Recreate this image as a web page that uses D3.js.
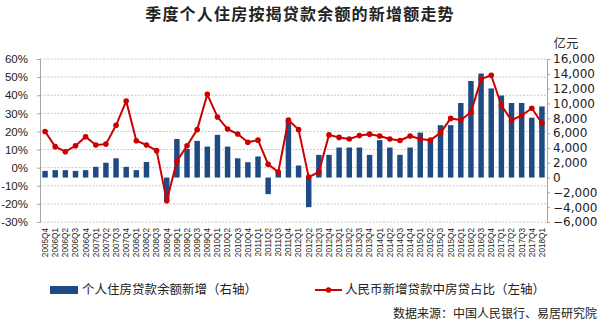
<!DOCTYPE html>
<html>
<head>
<meta charset="utf-8">
<script src="https://cdn.jsdelivr.net/npm/d3@7"></script>
<style>
body{margin:0;background:#fff;}
svg{display:block;}
</style>
</head>
<body>
<svg id="chart" width="600" height="330"></svg>
<script>
const categories = ["2005Q4",
 "2006Q1","2006Q2","2006Q3","2006Q4",
 "2007Q1","2007Q2","2007Q3","2007Q4",
 "2008Q1","2008Q2","2008Q3","2008Q4",
 "2009Q1","2009Q2","2009Q3","2009Q4",
 "2010Q1","2010Q2","2010Q3","2010Q4",
 "2011Q1","2011Q2","2011Q3","2011Q4",
 "2012Q1","2012Q2","2012Q3","2012Q4",
 "2013Q1","2013Q2","2013Q3","2013Q4",
 "2014Q1","2014Q2","2014Q3","2014Q4",
 "2015Q1","2015Q2","2015Q3","2015Q4",
 "2016Q1","2016Q2","2016Q3","2016Q4",
 "2017Q1","2017Q2","2017Q3","2017Q4",
 "2018Q1"];

// 个人住房贷款余额新增（亿元，右轴）
const loanIncrease = [900,
 1000,1000,900,1000,
 1450,2000,2600,1450,
 1000,2100,0,-3200,
 5200,3850,4950,4180,
 5760,4180,2600,2070,
 2840,-2240,810,7790,
 1620,-4000,3060,3060,
 4050,4050,4050,3060,
 5050,4050,3060,4050,
 6070,5090,7070,7070,
 10060,13030,14040,12030,
 11070,10060,10060,8080,
 9600];

// 人民币新增贷款中房贷占比（%，左轴）
const mortgageShare = [20.0,
 11.6,8.8,12.1,17.1,
 12.5,13.0,23.4,36.8,
 14.9,12.5,9.4,-18.3,
 3.6,12.1,21.0,40.5,
 28.0,21.3,18.6,14.0,
 15.2,1.8,-2.4,26.3,
 21.0,-5.2,-2.4,18.1,
 16.7,15.8,17.7,18.5,
 17.5,15.8,15.0,17.5,
 15.8,15.2,19.2,27.2,
 26.3,30.6,48.9,51.0,
 34.3,26.2,28.8,32.8,
 24.5];

const leftTicks = [-30,-20,-10,0,10,20,30,40,50,60];
const rightTicks = [-6000,-4000,-2000,0,2000,4000,6000,8000,10000,12000,14000,16000];

const titleText = "季度个人住房按揭贷款余额的新增额走势";
const unitText = "亿元";
const legendBar = "个人住房贷款余额新增（右轴）";
const legendLine = "人民币新增贷款中房贷占比（左轴）";
const sourceText = "数据来源：中国人民银行、易居研究院";

const svg = d3.select("#chart");
const L = 40, R = 547, T = 59, B = 222;
const barColor = "#1f4b85", lineColor = "#cc0000", axisColor = "#a6a6a6";
const cjk = "'Noto Sans CJK SC', sans-serif";

const x = d3.scaleBand().domain(categories).range([L, R]).paddingInner(0.46).paddingOuter(0.23);
const yL = d3.scaleLinear().domain([-30, 60]).range([B, T]);
const yR = d3.scaleLinear().domain([-6000, 16000]).range([B, T]);

// title
svg.append("text").attr("x", 300).attr("y", 20).attr("text-anchor", "middle")
  .attr("font-family", cjk).attr("font-weight", "bold").attr("font-size", 16)
  .attr("letter-spacing", 1.2).attr("fill", "#222").text(titleText);

// gridlines
svg.append("g").selectAll("line").data(leftTicks).join("line")
  .attr("x1", L).attr("x2", R).attr("y1", d => yL(d)).attr("y2", d => yL(d))
  .attr("stroke", "#c8c8c8").attr("stroke-width", 1).attr("stroke-dasharray", "2,1.5");

// left axis
const gL = svg.append("g").attr("transform", `translate(${L},0)`)
  .call(d3.axisLeft(yL).tickValues(leftTicks).tickSize(3).tickPadding(9).tickFormat(d => d + "%"));
gL.select(".domain").attr("stroke", axisColor);
gL.selectAll(".tick line").attr("stroke", axisColor);
gL.selectAll("text").attr("font-family", "'Liberation Sans', Arial, sans-serif").attr("font-size", 11.5).attr("fill", "#222");

// right axis
const gR = svg.append("g").attr("transform", `translate(${R},0)`)
  .call(d3.axisRight(yR).tickValues(rightTicks).tickSize(3).tickPadding(3).tickFormat(d3.format(",")));
gR.select(".domain").attr("stroke", axisColor);
gR.selectAll(".tick line").attr("stroke", axisColor);
gR.selectAll("text").attr("font-family", "'DejaVu Sans', Verdana, sans-serif").attr("font-size", 12).attr("fill", "#222");

svg.append("text").attr("x", 566).attr("y", 48).attr("text-anchor", "middle")
  .attr("font-family", cjk).attr("font-size", 12.5).attr("fill", "#333").text(unitText);

// x labels
const gX = svg.append("g").attr("transform", `translate(0,${B})`)
  .call(d3.axisBottom(x).tickSize(0).tickPadding(0));
gX.select(".domain").remove();
gX.selectAll("text")
  .attr("font-family", "'Liberation Sans', Arial, sans-serif").attr("font-size", 8.2).attr("fill", "#222")
  .attr("text-anchor", "end").attr("dy", "0.35em")
  .attr("transform", "translate(0,6) rotate(-90)");

// bars
svg.append("g").selectAll("rect").data(loanIncrease).join("rect")
  .attr("x", (d, i) => x(categories[i]))
  .attr("width", x.bandwidth())
  .attr("y", d => Math.min(yR(d), yR(0)))
  .attr("height", d => Math.abs(yR(d) - yR(0)))
  .attr("fill", barColor);

// line
const cx = i => x(categories[i]) + x.bandwidth() / 2;
svg.append("path").datum(mortgageShare)
  .attr("d", d3.line().x((d, i) => cx(i)).y(d => yL(d)))
  .attr("fill", "none").attr("stroke", lineColor).attr("stroke-width", 2).attr("stroke-linejoin", "round");
svg.append("g").selectAll("circle").data(mortgageShare).join("circle")
  .attr("cx", (d, i) => cx(i)).attr("cy", d => yL(d)).attr("r", 2.8).attr("fill", lineColor);

// legend
svg.append("rect").attr("x", 50).attr("y", 286).attr("width", 28).attr("height", 8).attr("fill", barColor);
svg.append("text").attr("x", 82).attr("y", 290).attr("dy", "0.35em")
  .attr("font-family", cjk).attr("font-size", 12.5).attr("fill", "#222").text(legendBar);
svg.append("line").attr("x1", 315).attr("x2", 342).attr("y1", 290).attr("y2", 290)
  .attr("stroke", lineColor).attr("stroke-width", 2);
svg.append("circle").attr("cx", 328.5).attr("cy", 290).attr("r", 2.8).attr("fill", lineColor);
svg.append("text").attr("x", 345).attr("y", 290).attr("dy", "0.35em")
  .attr("font-family", cjk).attr("font-size", 12.5).attr("fill", "#222").text(legendLine);

// source
svg.append("text").attr("x", 597).attr("y", 314).attr("dy", "0.35em").attr("text-anchor", "end")
  .attr("font-family", cjk).attr("font-size", 12).attr("fill", "#222").text(sourceText);
</script>
</body>
</html>
